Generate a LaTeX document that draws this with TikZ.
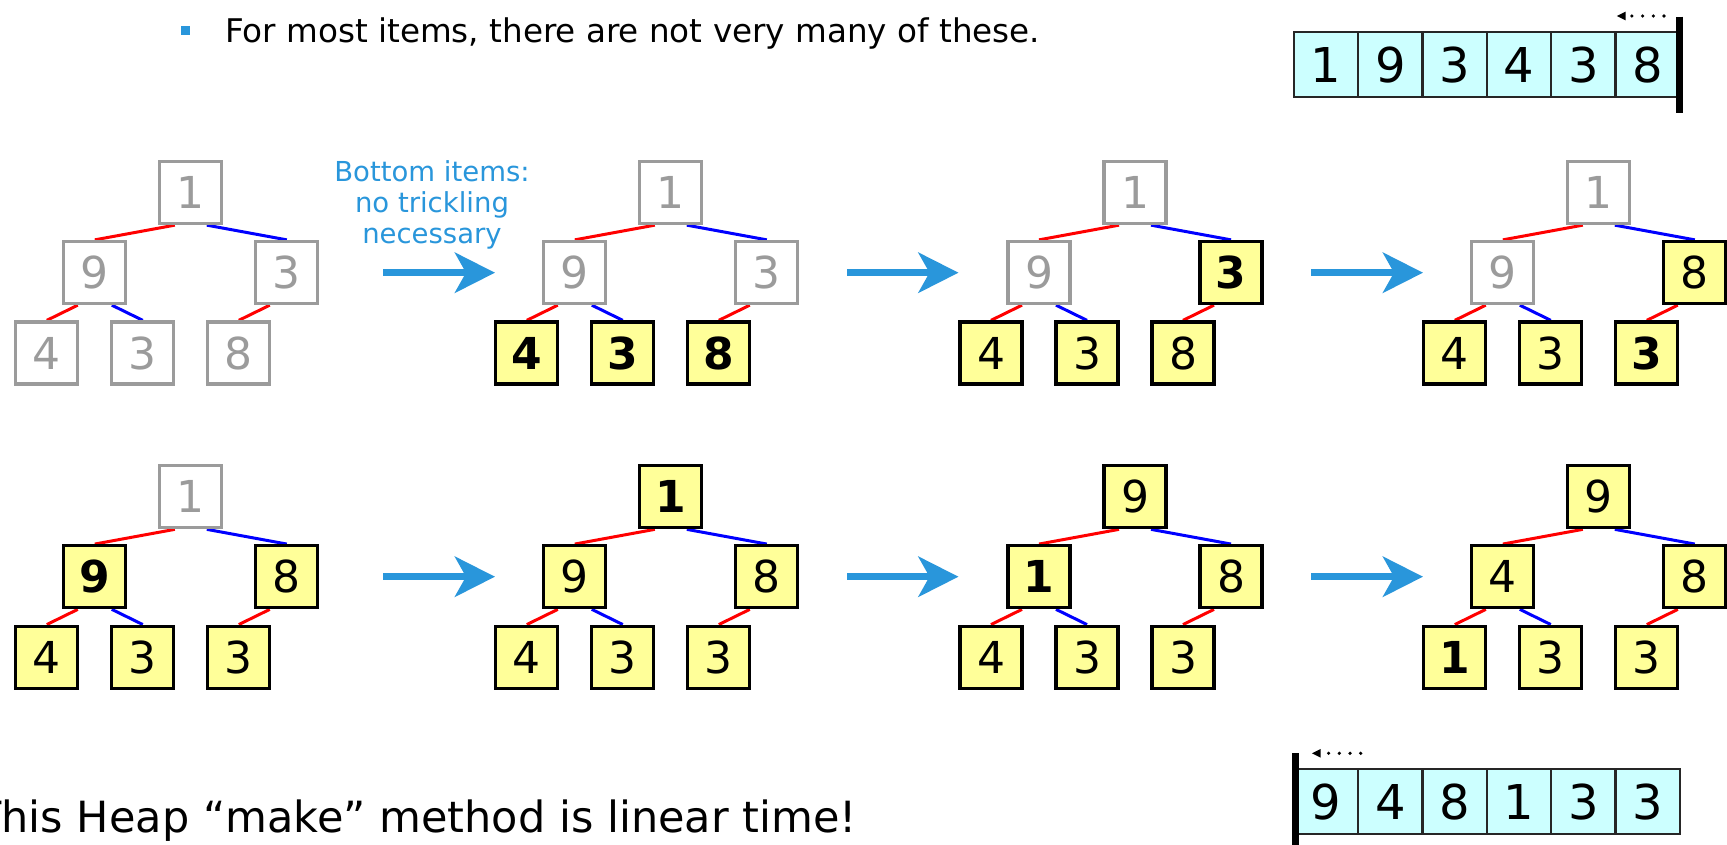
\documentclass[tikz,border=0pt]{standalone}
\usepackage{fontspec}
\setmainfont{DejaVu Sans}
\usetikzlibrary{arrows.meta}
\pgfdeclarelayer{back}
\pgfdeclarelayer{bg}
\pgfsetlayers{back,bg,main}
\definecolor{hgray}{RGB}{155,155,155}
\definecolor{hyellow}{RGB}{255,255,153}
\definecolor{hcyan}{RGB}{204,255,255}
\definecolor{hblue}{RGB}{41,150,219}
\newcommand\hfs[1]{\fontsize{#1}{#1}\selectfont}
\tikzset{
  hbox/.style={draw, line width=3.3pt, minimum size=62pt, inner sep=0pt, font=\hfs{44}},
  gbox/.style={hbox, draw=hgray, text=hgray, fill=white},
  ybox/.style={hbox, draw=black, fill=hyellow, text=black},
  ybold/.style={ybox, font=\hfs{44}\bfseries},
  redge/.style={draw=red, line width=3pt},
  bedge/.style={draw=blue, line width=3pt},
  bigarrow/.style={draw=hblue, line width=7pt, -{Stealth[length=40pt,width=40pt,inset=11pt]}},
  acell/.style={draw=black!85, line width=2.3pt, fill=hcyan, minimum width=64.3pt, minimum height=65pt, inner sep=0pt, font=\hfs{48}},
  dotarrow/.style={draw=black, line width=3.6pt, line cap=round, dash pattern=on 0pt off 10.7pt, -{Triangle[length=9pt,width=8pt]}},
  bar/.style={draw=black, line width=7pt},
  lbl/.style={text=hblue, font=\hfs{27.5}, inner sep=0pt, anchor=base}
}
\newcommand\heaptree[9]{%
  \node (#1r) at (#2,#3) #4;
  \node (#1a) at ({#2-96},{#3+80}) #5;
  \node (#1b) at ({#2+96},{#3+80}) #6;
  \node (#1c) at ({#2-144},{#3+160.5}) #7;
  \node (#1d) at ({#2-48},{#3+160.5}) #8;
  \node (#1e) at ({#2+48},{#3+160.5}) #9;
  \begin{pgfonlayer}{bg}
    \draw[redge] ([xshift=-16pt]#1r.south) -- (#1a.north);
    \draw[bedge] ([xshift=16pt]#1r.south) -- (#1b.north);
    \draw[redge] ([xshift=-17pt]#1a.south) -- (#1c.north);
    \draw[bedge] ([xshift=17pt]#1a.south) -- (#1d.north);
    \draw[redge] ([xshift=-17pt]#1b.south) -- (#1e.north);
  \end{pgfonlayer}
}
\begin{document}
\begin{tikzpicture}[x=1pt,y=-1pt]
\useasboundingbox (0,0) rectangle (1727,844);
\begin{pgfonlayer}{back}
  \fill[white] (0,0) rectangle (1727,844);
\end{pgfonlayer}

% top bullet line
\node[fill=hblue, minimum size=9pt, inner sep=0pt] (bul) at (185.3,30.5) {};
\node[anchor=base west, inner sep=0pt, font=\hfs{32.6}] (topline) at (225,42.3) {For most items, there are not very many of these.};

% top array
\foreach \v [count=\i] in {1,9,3,4,3,8} {
  \node[acell] (ta\i) at ({1294+32.15+64.3*(\i-1)},64.7) {\v};
}
\draw[bar] (1679.5,16.7) -- (1679.5,113.3);
\coordinate (tdS) at (1664,16);
\coordinate (tdE) at (1616.7,16);
\draw[dotarrow] (tdS) -- (tdE);

% label
\node[lbl] (lab1) at (432,181.7) {Bottom items:};
\node[lbl] (lab2) at (432,212.5) {no trickling};
\node[lbl] (lab3) at (432,243.2) {necessary};

% row 1
\heaptree{p}{190.8}{192.5}{[gbox]{1}}{[gbox]{9}}{[gbox]{3}}{[gbox]{4}}{[gbox]{3}}{[gbox]{8}}
\heaptree{q}{670.8}{192.5}{[gbox]{1}}{[gbox]{9}}{[gbox]{3}}{[ybold]{4}}{[ybold]{3}}{[ybold]{8}}
\heaptree{s}{1135}{192.5}{[gbox]{1}}{[gbox]{9}}{[ybold]{3}}{[ybox]{4}}{[ybox]{3}}{[ybox]{8}}
\heaptree{t}{1598.8}{192.5}{[gbox]{1}}{[gbox]{9}}{[ybox]{8}}{[ybox]{4}}{[ybox]{3}}{[ybold]{3}}

% row 2
\heaptree{u}{190.8}{496.7}{[gbox]{1}}{[ybold]{9}}{[ybox]{8}}{[ybox]{4}}{[ybox]{3}}{[ybox]{3}}
\heaptree{v}{670.8}{496.7}{[ybold]{1}}{[ybox]{9}}{[ybox]{8}}{[ybox]{4}}{[ybox]{3}}{[ybox]{3}}
\heaptree{w}{1135}{496.7}{[ybox]{9}}{[ybold]{1}}{[ybox]{8}}{[ybox]{4}}{[ybox]{3}}{[ybox]{3}}
\heaptree{z}{1598.8}{496.7}{[ybox]{9}}{[ybox]{4}}{[ybox]{8}}{[ybold]{1}}{[ybox]{3}}{[ybox]{3}}

% arrows
\foreach \y [count=\r] in {272.7,576.7} {
  \coordinate (a\r s1) at (383,\y);   \coordinate (a\r e1) at (495,\y);
  \coordinate (a\r s2) at (847,\y);   \coordinate (a\r e2) at (958.5,\y);
  \coordinate (a\r s3) at (1311,\y);  \coordinate (a\r e3) at (1423,\y);
  \draw[bigarrow] (a\r s1) -- (a\r e1);
  \draw[bigarrow] (a\r s2) -- (a\r e2);
  \draw[bigarrow] (a\r s3) -- (a\r e3);
}

% bottom array
\foreach \v [count=\i] in {9,4,8,1,3,3} {
  \node[acell] (ba\i) at ({1294+32.15+64.3*(\i-1)},801.7) {\v};
}
\draw[bar] (1295.5,753.3) -- (1295.5,846);
\coordinate (bdS) at (1360.7,753.3);
\coordinate (bdE) at (1311.7,753.3);
\draw[dotarrow] (bdS) -- (bdE);

% bottom text
\node[anchor=base east, inner sep=0pt, font=\hfs{43}] (bottomline) at (857,832.3) {This Heap “make” method is linear time!};
\end{tikzpicture}
\end{document}
